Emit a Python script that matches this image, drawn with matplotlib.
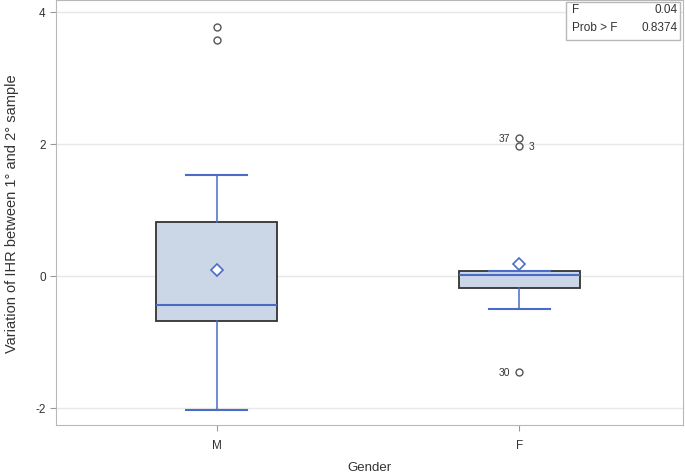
import matplotlib.pyplot as plt

plt.rcParams['font.family'] = ['Liberation Sans', 'DejaVu Sans']

groups = ["M", "F"]
q1 = [-0.68, -0.18]
med = [-0.44, 0.01]
q3 = [0.82, 0.07]
whislo = [-2.03, -0.50]
whishi = [1.53, 0.07]
means = [0.09, 0.18]
outliers = [[3.77, 3.57], [2.09, 1.97, -1.45]]
outlier_ids = [[None, None], ["37", "3", "30"]]
f_value = "0.04"
p_value = "0.8374"

blue = "#4a6cc6"
fill = "#cbd6e6"

fig = plt.figure(figsize=(6.85, 4.77), dpi=100)
ax = fig.add_axes([0.082, 0.107, 0.915, 0.891])

stats = []
for i, g in enumerate(groups):
    stats.append(dict(label=g, q1=q1[i], med=med[i], q3=q3[i],
                      whislo=whislo[i], whishi=whishi[i], mean=means[i], fliers=[]))

ax.bxp(stats, positions=[1, 2], widths=0.4, showmeans=True, patch_artist=True,
       showfliers=False,
       boxprops=dict(facecolor=fill, edgecolor="#333333", linewidth=1.3),
       medianprops=dict(color=blue, linewidth=1.5),
       whiskerprops=dict(color=blue, linewidth=1.1),
       capprops=dict(color=blue, linewidth=1.5),
       capwidths=0.2,
       meanprops=dict(marker="D", markerfacecolor="white", markeredgecolor=blue,
                      markersize=6, markeredgewidth=1.2))

for i, pts in enumerate(outliers):
    x = i + 1
    ax.plot([x] * len(pts), pts, "o", markerfacecolor="none", markeredgecolor="#555555",
            markersize=5, markeredgewidth=1)
    for v, lab in zip(pts, outlier_ids[i]):
        if lab is None:
            continue
        if lab == "3":
            ax.text(x + 0.03, v, lab, fontsize=7.5, va="center", ha="left", color="#333333")
        else:
            ax.text(x - 0.03, v, lab, fontsize=7.5, va="center", ha="right", color="#333333")

ax.set_xlim(0.47, 2.54)
ax.set_ylim(-2.26, 4.18)
ax.set_yticks([-2, 0, 2, 4])
ax.set_yticklabels(["-2", "0", "2", "4"])
ax.set_xticks([1, 2])
ax.set_xticklabels(groups)
ax.tick_params(labelsize=8.5, color="#999999", length=4, labelcolor="#333333")
ax.tick_params(axis="x", pad=6)
ax.yaxis.grid(True, color="#e8e8e8", linewidth=1)
ax.set_axisbelow(True)
for s in ax.spines.values():
    s.set_color("#b8b8b8")

ax.set_xlabel("Gender", fontsize=9.5, color="#333333", labelpad=7)
ax.set_ylabel("Variation of IHR between 1° and 2° sample", fontsize=10.5, color="#333333",
              labelpad=12)

# inset stats box
ax.text(0.823, 0.992, "F", transform=ax.transAxes, fontsize=8.5, va="top", ha="left", color="#333333")
ax.text(0.991, 0.992, f_value, transform=ax.transAxes, fontsize=8.5, va="top", ha="right", color="#333333")
ax.text(0.823, 0.950, "Prob > F", transform=ax.transAxes, fontsize=8.5, va="top", ha="left", color="#333333")
ax.text(0.991, 0.950, p_value, transform=ax.transAxes, fontsize=8.5, va="top", ha="right", color="#333333")
box = plt.Rectangle((0.813, 0.906), 0.183, 0.089, transform=ax.transAxes, fill=True,
                    facecolor="white", edgecolor="#b8b8b8", linewidth=1, zorder=1)
ax.add_patch(box)

fig.savefig("out.png", dpi=100)
